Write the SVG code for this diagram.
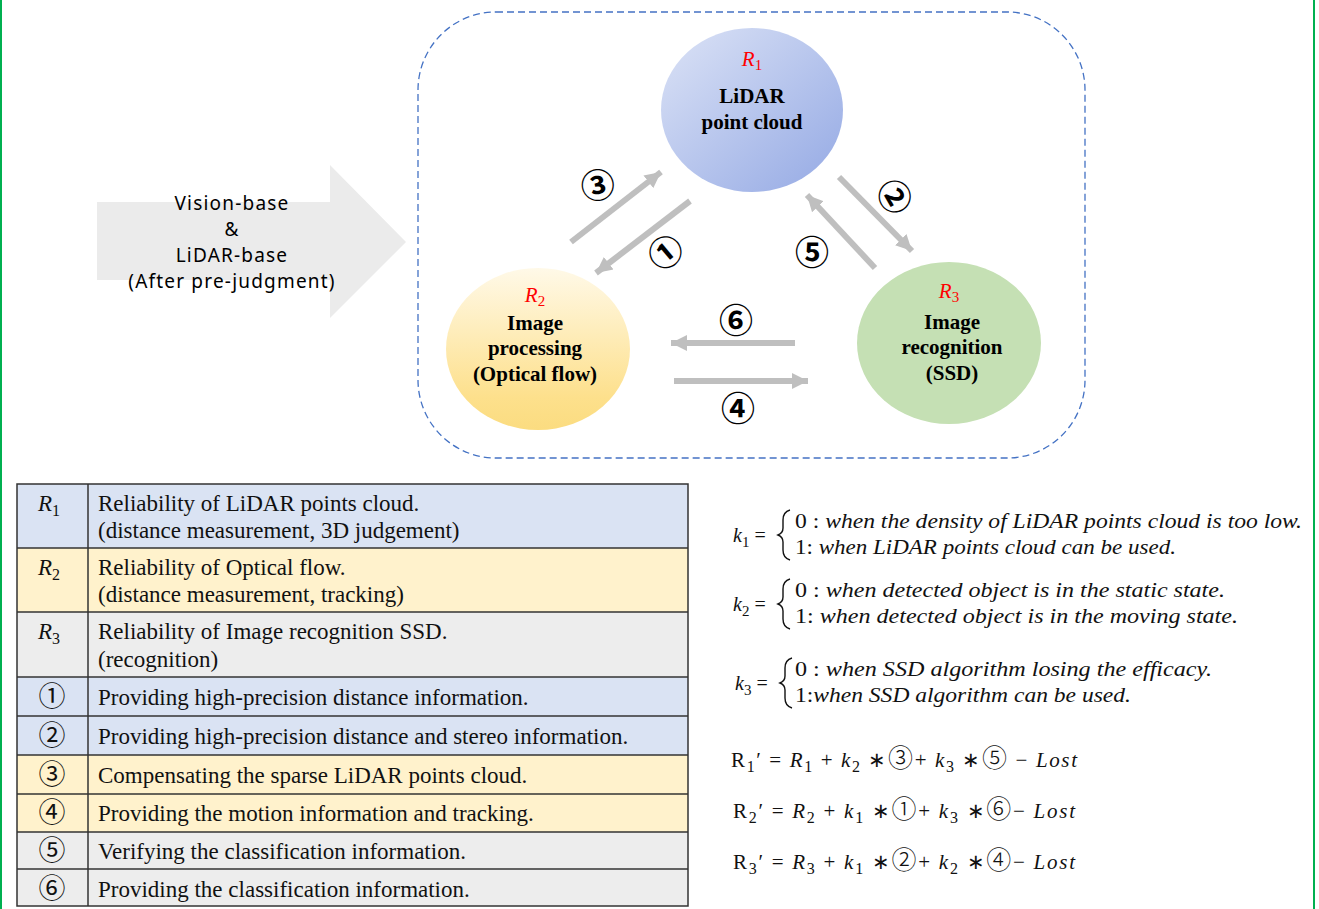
<svg xmlns="http://www.w3.org/2000/svg" width="1319" height="909" viewBox="0 0 1319 909">
<style>
.node{font-family:"Liberation Serif",serif;font-weight:bold;font-size:21px;fill:#000;text-anchor:middle}
.rl{font-family:"Liberation Serif",serif;font-style:italic;font-size:21px;fill:#FF0000;text-anchor:middle}
.circ{font-family:"Noto Sans CJK SC","DejaVu Sans",sans-serif;font-size:34px;fill:#000;text-anchor:middle;font-weight:bold}
.big{font-family:"Noto Sans","Open Sans",sans-serif;font-size:19px;letter-spacing:1.2px;fill:#000;text-anchor:middle}
.tt{font-family:"Liberation Serif",serif;font-size:23px;fill:#111}
.ti{font-family:"Liberation Serif",serif;font-style:italic;font-size:23px;fill:#111}
.tc{font-family:"Noto Sans CJK SC","DejaVu Sans",sans-serif;font-size:27px;fill:#111;text-anchor:middle}
.eq{font-family:"Liberation Serif",serif;font-style:italic;font-size:20px;fill:#111}
.eqn{font-family:"Liberation Serif",serif;font-size:21px;fill:#111}
.ec{font-family:"Noto Sans CJK SC","DejaVu Sans",sans-serif;font-size:25px;fill:#111;font-weight:300}
.conn{stroke:#BFBFBF;stroke-width:6;fill:none;marker-end:url(#ah)}
.cell{stroke:#333;stroke-width:1.5}
.brace{stroke:#111;stroke-width:1.4;fill:none}
</style>
<defs>
<marker id="ah" markerUnits="userSpaceOnUse" markerWidth="18" markerHeight="18" refX="16" refY="9" orient="auto">
<path d="M0,1 L16,9 L0,17 Z" fill="#BFBFBF"/>
</marker>
<linearGradient id="g1" x1="0" y1="0" x2="1" y2="1">
<stop offset="0" stop-color="#DCE3F6"/>
<stop offset="1" stop-color="#94A9E4"/>
</linearGradient>
<linearGradient id="g2" x1="0" y1="0" x2="0" y2="1">
<stop offset="0" stop-color="#FFF9E8"/>
<stop offset="0.8" stop-color="#FDE08C"/>
<stop offset="1" stop-color="#FBDC80"/>
</linearGradient>
</defs>
<rect width="1319" height="909" fill="#FFFFFF"/>
<line x1="1" y1="0" x2="1" y2="909" stroke="#00B050" stroke-width="2"/>
<line x1="1314" y1="0" x2="1314" y2="909" stroke="#00B050" stroke-width="2"/>

<g id="container">
<rect x="418" y="12" width="667" height="446" rx="78" ry="78" fill="none" stroke="#4472C4" stroke-width="1.3" stroke-dasharray="7,4"/>
</g>

<g id="input-arrow">
<path d="M97,202 L330,202 L330,165 L406,242 L330,318 L330,280 L97,280 Z" fill="#EBEBEB"/>
<text class="big" x="232" y="210">Vision-base</text>
<text class="big" x="232" y="236">&amp;</text>
<text class="big" x="232" y="262">LiDAR-base</text>
<text class="big" x="232" y="288">(After pre-judgment)</text>
</g>

<g id="node-r1">
<ellipse cx="752" cy="110" rx="91" ry="82" fill="url(#g1)"/>
<text class="rl" x="752" y="66">R<tspan font-style="normal" font-size="15" dy="4">1</tspan></text>
<text class="node" x="752" y="103">LiDAR</text>
<text class="node" x="752" y="129">point cloud</text>
</g>

<g id="node-r2">
<ellipse cx="538" cy="349" rx="92" ry="81" fill="url(#g2)"/>
<text class="rl" x="535" y="302">R<tspan font-style="normal" font-size="15" dy="4">2</tspan></text>
<text class="node" x="535" y="330">Image</text>
<text class="node" x="535" y="355">processing</text>
<text class="node" x="535" y="381">(Optical flow)</text>
</g>

<g id="node-r3">
<ellipse cx="949" cy="343" rx="92" ry="81" fill="#C5E0B4"/>
<text class="rl" x="949" y="298">R<tspan font-style="normal" font-size="15" dy="4">3</tspan></text>
<text class="node" x="952" y="329">Image</text>
<text class="node" x="952" y="354">recognition</text>
<text class="node" x="952" y="380">(SSD)</text>
</g>

<g id="connectors">
<line class="conn" x1="571" y1="242" x2="661" y2="172"/>
<line class="conn" x1="690" y1="201" x2="596" y2="273"/>
<line class="conn" x1="839" y1="177" x2="912" y2="251"/>
<line class="conn" x1="875" y1="268" x2="807" y2="195"/>
<line class="conn" x1="795" y1="343" x2="671" y2="343"/>
<line class="conn" x1="674" y1="381" x2="808" y2="381"/>
<text class="circ" transform="translate(598,186) rotate(-10)" dy="12">③</text>
<text class="circ" transform="translate(666,253) rotate(-40)" dy="12">①</text>
<text class="circ" transform="translate(894,197) rotate(60)" dy="12">②</text>
<text class="circ" x="812" y="265">⑤</text>
<text class="circ" x="736" y="333">⑥</text>
<text class="circ" x="738" y="421">④</text>
</g>

<g id="table">
<rect x="17" y="484" width="671" height="64" fill="#DAE3F3"/>
<rect x="17" y="548" width="671" height="64" fill="#FFF2CC"/>
<rect x="17" y="612" width="671" height="65" fill="#EDEDED"/>
<rect x="17" y="677" width="671" height="78" fill="#DAE3F3"/>
<rect x="17" y="755" width="671" height="77" fill="#FFF2CC"/>
<rect x="17" y="832" width="671" height="74" fill="#EDEDED"/>
<g class="cell">
<rect x="17" y="484" width="671" height="422" fill="none"/>
<line x1="88" y1="484" x2="88" y2="906"/>
<line x1="17" y1="548" x2="688" y2="548"/>
<line x1="17" y1="612" x2="688" y2="612"/>
<line x1="17" y1="677" x2="688" y2="677"/>
<line x1="17" y1="716" x2="688" y2="716"/>
<line x1="17" y1="755" x2="688" y2="755"/>
<line x1="17" y1="794" x2="688" y2="794"/>
<line x1="17" y1="832" x2="688" y2="832"/>
<line x1="17" y1="869" x2="688" y2="869"/>
</g>
<text class="ti" x="38" y="511">R<tspan font-style="normal" font-size="16" dy="5">1</tspan></text>
<text class="tt" x="98" y="511">Reliability of LiDAR points cloud.</text>
<text class="tt" x="98" y="538">(distance measurement, 3D judgement)</text>
<text class="ti" x="38" y="575">R<tspan font-style="normal" font-size="16" dy="5">2</tspan></text>
<text class="tt" x="98" y="575">Reliability of Optical flow.</text>
<text class="tt" x="98" y="602">(distance measurement, tracking)</text>
<text class="ti" x="38" y="639">R<tspan font-style="normal" font-size="16" dy="5">3</tspan></text>
<text class="tt" x="98" y="639">Reliability of Image recognition SSD.</text>
<text class="tt" x="98" y="667">(recognition)</text>
<text class="tc" x="52" y="706">①</text>
<text class="tt" x="98" y="705">Providing high-precision distance information.</text>
<text class="tc" x="52" y="745">②</text>
<text class="tt" x="98" y="744">Providing high-precision distance and stereo information.</text>
<text class="tc" x="52" y="784">③</text>
<text class="tt" x="98" y="783">Compensating the sparse LiDAR points cloud.</text>
<text class="tc" x="52" y="822">④</text>
<text class="tt" x="98" y="821">Providing the motion information and tracking.</text>
<text class="tc" x="52" y="860">⑤</text>
<text class="tt" x="98" y="859">Verifying the classification information.</text>
<text class="tc" x="52" y="898">⑥</text>
<text class="tt" x="98" y="897">Providing the classification information.</text>
</g>

<g id="conditions">
<text class="eq" x="733" y="542">k<tspan font-style="normal" font-size="15" dy="5">1</tspan><tspan font-style="normal" dy="-5"> =</tspan></text>
<path class="brace" d="M790,510 Q783,512 783,520 L783,528 Q783,533 778,535 Q783,537 783,542 L783,550 Q783,558 790,560"/>
<text class="eq" x="795" y="528" textLength="507" lengthAdjust="spacingAndGlyphs"><tspan font-style="normal">0 : </tspan>when the density of  LiDAR points cloud is too low.</text>
<text class="eq" x="795" y="554" textLength="381" lengthAdjust="spacingAndGlyphs"><tspan font-style="normal">1: </tspan>when LiDAR points cloud can be used.</text>

<text class="eq" x="733" y="611">k<tspan font-style="normal" font-size="15" dy="5">2</tspan><tspan font-style="normal" dy="-5"> =</tspan></text>
<path class="brace" d="M790,579 Q783,581 783,589 L783,597 Q783,602 778,604 Q783,606 783,611 L783,619 Q783,627 790,629"/>
<text class="eq" x="795" y="597" textLength="430" lengthAdjust="spacingAndGlyphs"><tspan font-style="normal">0 : </tspan>when detected object is in the static state.</text>
<text class="eq" x="795" y="623" textLength="443" lengthAdjust="spacingAndGlyphs"><tspan font-style="normal">1: </tspan>when detected object is in the moving state.</text>

<text class="eq" x="735" y="690">k<tspan font-style="normal" font-size="15" dy="5">3</tspan><tspan font-style="normal" dy="-5"> =</tspan></text>
<path class="brace" d="M792,658 Q785,660 785,668 L785,676 Q785,681 780,683 Q785,685 785,690 L785,698 Q785,706 792,708"/>
<text class="eq" x="795" y="676" textLength="417" lengthAdjust="spacingAndGlyphs"><tspan font-style="normal">0 : </tspan>when SSD algorithm losing the efficacy.</text>
<text class="eq" x="795" y="702" textLength="336" lengthAdjust="spacingAndGlyphs"><tspan font-style="normal">1:</tspan>when SSD algorithm can be used.</text>
</g>

<g id="equations">
<text class="eqn" x="731" y="767" textLength="346" lengthAdjust="spacing">R<tspan font-size="16" dy="5">1</tspan><tspan dy="-5">′ = </tspan><tspan font-style="italic">R</tspan><tspan font-size="16" dy="5">1</tspan><tspan dy="-5"> + </tspan><tspan font-style="italic">k</tspan><tspan font-size="16" dy="5">2</tspan><tspan dy="-5"> ∗</tspan><tspan class="ec">③</tspan><tspan>+ </tspan><tspan font-style="italic">k</tspan><tspan font-size="16" dy="5">3</tspan><tspan dy="-5"> ∗</tspan><tspan class="ec">⑤</tspan><tspan> − </tspan><tspan font-style="italic">Lost</tspan></text>
<text class="eqn" x="733" y="818" textLength="342" lengthAdjust="spacing">R<tspan font-size="16" dy="5">2</tspan><tspan dy="-5">′ = </tspan><tspan font-style="italic">R</tspan><tspan font-size="16" dy="5">2</tspan><tspan dy="-5"> + </tspan><tspan font-style="italic">k</tspan><tspan font-size="16" dy="5">1</tspan><tspan dy="-5"> ∗</tspan><tspan class="ec">①</tspan><tspan>+ </tspan><tspan font-style="italic">k</tspan><tspan font-size="16" dy="5">3</tspan><tspan dy="-5"> ∗</tspan><tspan class="ec">⑥</tspan><tspan>− </tspan><tspan font-style="italic">Lost</tspan></text>
<text class="eqn" x="733" y="869" textLength="342" lengthAdjust="spacing">R<tspan font-size="16" dy="5">3</tspan><tspan dy="-5">′ = </tspan><tspan font-style="italic">R</tspan><tspan font-size="16" dy="5">3</tspan><tspan dy="-5"> + </tspan><tspan font-style="italic">k</tspan><tspan font-size="16" dy="5">1</tspan><tspan dy="-5"> ∗</tspan><tspan class="ec">②</tspan><tspan>+ </tspan><tspan font-style="italic">k</tspan><tspan font-size="16" dy="5">2</tspan><tspan dy="-5"> ∗</tspan><tspan class="ec">④</tspan><tspan>− </tspan><tspan font-style="italic">Lost</tspan></text>
</g>
</svg>
